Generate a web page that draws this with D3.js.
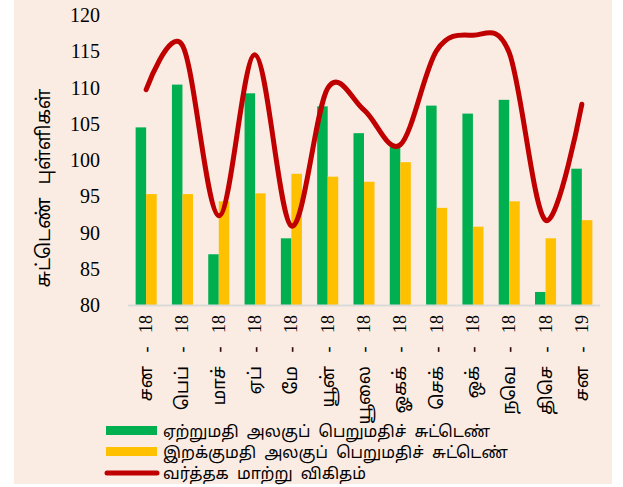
<!DOCTYPE html>
<html>
<head>
<meta charset="utf-8">
<script src="https://cdn.jsdelivr.net/npm/d3@7"></script>
<style>
  body { margin: 0; background: #fff; }
  text { font-family: "Liberation Serif", serif; fill: #000; }
  .ta { font-family: "Noto Sans Tamil", "Noto Serif Tamil", "Lohit Tamil", "Latha", "FreeSerif", "FreeSans", "Liberation Serif", sans-serif; }
</style>
</head>
<body>
<svg id="chart" width="623" height="487"></svg>
<script>
// months (Tamil abbreviations, as on the chart)
const months = ["சன - 18", "பெப் - 18", "மாச் - 18", "ஏப் - 18", "மே - 18", "யூன் - 18",
  "யூலை - 18", "ஓகக் - 18", "செக் - 18", "ஒக் - 18", "நவெ - 18", "திசெ - 18", "சன - 19"];

const exportIdx = [104.5, 110.4, 87.0, 109.2, 89.2, 107.4, 103.7, 101.8, 107.5, 106.4, 108.3, 81.8, 98.8];
const importIdx = [95.3, 95.3, 94.3, 95.4, 98.1, 97.7, 97.0, 99.7, 93.4, 90.8, 94.3, 89.2, 91.7];
const tradeTerms = [109.7, 115.8, 92.3, 114.5, 90.9, 109.9, 106.9, 102.1, 115.1, 117.2, 114.8, 91.7, 107.7];

const yTicks = [80, 85, 90, 95, 100, 105, 110, 115, 120];

const seriesNames = ["ஏற்றுமதி அலகுப் பெறுமதிச் சுட்டெண்",
  "இறக்குமதி அலகுப் பெறுமதிச் சுட்டெண்",
  "வர்த்தக மாற்று விகிதம்"];
const yTitle = "சுட்டெண் புள்ளிகள்";

const green = "#00B050", yellow = "#FFC000", red = "#C00000";

const svg = d3.select("#chart");

// chart background
svg.append("rect")
  .attr("x", 14).attr("y", 0)
  .attr("width", 598).attr("height", 484)
  .attr("fill", "#FBECE3");

const x = d3.scaleBand()
  .domain(months)
  .range([128, 600])
  .paddingInner(0.42)
  .paddingOuter(0.21);

const y = d3.scaleLinear()
  .domain([80, 120])
  .range([305, 15]);

const bw = x.bandwidth() / 2;

// y tick labels (no axis line, no gridlines)
svg.append("g")
  .selectAll("text")
  .data(yTicks)
  .enter().append("text")
  .attr("x", 100)
  .attr("y", d => y(d))
  .attr("dy", "0.35em")
  .attr("text-anchor", "end")
  .style("font-size", "20px")
  .text(d => d);

// bars
svg.append("g")
  .selectAll("rect")
  .data(exportIdx)
  .enter().append("rect")
  .attr("x", (d, i) => x(months[i]))
  .attr("y", d => y(d))
  .attr("width", bw)
  .attr("height", d => y(80) - y(d))
  .attr("fill", green);

svg.append("g")
  .selectAll("rect")
  .data(importIdx)
  .enter().append("rect")
  .attr("x", (d, i) => x(months[i]) + bw)
  .attr("y", d => y(d))
  .attr("width", bw)
  .attr("height", d => y(80) - y(d))
  .attr("fill", yellow);

// category axis
svg.append("line")
  .attr("x1", 128).attr("x2", 600)
  .attr("y1", y(80) + 0.5).attr("y2", y(80) + 0.5)
  .attr("stroke", "#D9D9D9")
  .attr("stroke-width", 2);

// month label = Tamil part + " - yy"
const labels = svg.append("g")
  .selectAll("text")
  .data(months)
  .enter().append("text")
  .attr("transform", d => `translate(${x(d) + x.bandwidth() / 2 + 6},315) rotate(-90)`)
  .attr("text-anchor", "end");
labels.append("tspan")
  .attr("class", "ta")
  .style("font-size", "18px")
  .text(d => d.split(" - ")[0]);
labels.append("tspan")
  .style("font-size", "18px")
  .style("white-space", "pre")
  .text(d => "   -   " + d.split(" - ")[1]);

// trade terms line
const line = d3.line()
  .x((d, i) => x(months[i]) + x.bandwidth() / 2)
  .y(d => y(d))
  .curve(d3.curveCardinal.tension(0));

svg.append("path")
  .datum(tradeTerms)
  .attr("d", line)
  .attr("fill", "none")
  .attr("stroke", red)
  .attr("stroke-width", 5)
  .attr("stroke-linecap", "round")
  .attr("stroke-linejoin", "round");

// y axis title
svg.append("text")
  .attr("class", "ta")
  .attr("transform", "translate(50,188) rotate(-90)")
  .attr("text-anchor", "middle")
  .style("font-size", "19px")
  .style("word-spacing", "8px")
  .text(yTitle);

// legend
const legend = svg.append("g");
[green, yellow].forEach((c, i) => {
  legend.append("rect")
    .attr("x", 106).attr("y", 426 + i * 21)
    .attr("width", 51).attr("height", 9)
    .attr("fill", c);
});
legend.append("line")
  .attr("x1", 107).attr("x2", 157)
  .attr("y1", 473).attr("y2", 473)
  .attr("stroke", red)
  .attr("stroke-width", 5)
  .attr("stroke-linecap", "round");

legend.selectAll("text")
  .data(seriesNames)
  .enter().append("text")
  .attr("class", "ta")
  .attr("x", 163)
  .attr("y", (d, i) => 431 + i * 21)
  .attr("dy", "0.35em")
  .style("font-size", "16px")
  .style("word-spacing", "4px")
  .text(d => d);
</script>
</body>
</html>
